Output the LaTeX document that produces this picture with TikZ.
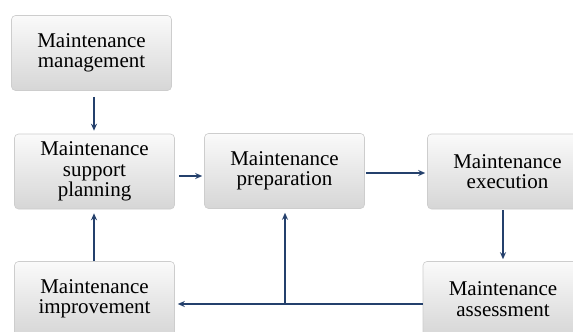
\documentclass[tikz,border=0pt]{standalone}
\usepackage{fontspec}
\setmainfont{Liberation Serif}
\usetikzlibrary{arrows.meta}
\definecolor{flowline}{RGB}{36,64,108}
\definecolor{boxedge}{RGB}{205,205,205}
\definecolor{boxtop}{RGB}{250,250,250}
\definecolor{boxbottom}{RGB}{214,214,214}
\tikzset{
  stagebox/.style={draw=boxedge, line width=0.6pt, rounded corners=4pt,
    top color=boxtop, bottom color=boxbottom,
    minimum width=160pt, minimum height=75pt, inner sep=0pt,
    align=center, text width=150pt,
    font=\fontsize{21}{20.5}\selectfont},
  flow/.style={draw=flowline, line width=1.2pt,
    -{Stealth[length=7pt,width=6pt]}}
}
\begin{document}
\begin{tikzpicture}[x=1pt,y=-1pt]
  \useasboundingbox (0,0) rectangle (573,332);
  \clip (0,0) rectangle (573,332);
  \fill[white] (0,0) rectangle (573,332);

  \node[stagebox] (mgmt)   at (91.5,53)   {Maintenance\\management};
  \node[stagebox] (plan)   at (94.5,171.5){Maintenance\\support\\planning};
  \node[stagebox] (prep)   at (284.5,171) {Maintenance\\preparation};
  \node[stagebox] (exec)   at (507.5,171.5){Maintenance\\execution};
  \node[stagebox] (assess) at (503,299)   {Maintenance\\assessment};
  \node[stagebox] (improve) at (94.5,299) {Maintenance\\improvement};

  \coordinate (junction) at (285,304);

  \draw[flow] ([xshift=2.5pt,yshift=-6pt]mgmt.south) -- ([xshift=-0.5pt,yshift=3pt]plan.north);
  \draw[flow] ([xshift=-0.5pt]improve.north) -- ([xshift=-0.5pt,yshift=-4pt]plan.south);
  \draw[flow] ([xshift=4pt,yshift=-4.5pt]plan.east) -- ([xshift=-2pt,yshift=-5pt]prep.west);
  \draw[flow] ([xshift=1pt,yshift=-2pt]prep.east) -- ([xshift=-2pt,yshift=-1.5pt]exec.west);
  \draw[flow] ([xshift=-4.5pt,yshift=-1pt]exec.south) -- ([xshift=0pt,yshift=2pt]assess.north);
  \draw[flow] ([yshift=-5pt]assess.west) -- ([xshift=3pt,yshift=-5pt]improve.east);
  \draw[flow] (junction) -- ([xshift=0.5pt,yshift=-4pt]prep.south);
\end{tikzpicture}
\end{document}
